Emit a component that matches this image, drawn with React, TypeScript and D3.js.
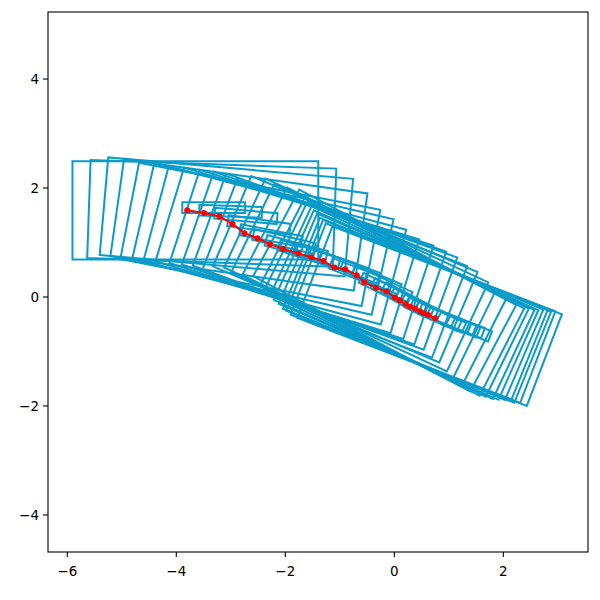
import { scaleLinear } from "d3";

const width = 600;
const height = 600;

// red track: reference point of the box in each frame
const trackX = [-3.8, -3.49, -3.21, -2.97, -2.75, -2.51, -2.28, -2.04, -1.76, -1.52, -1.3, -1.1, -0.9, -0.69, -0.55, -0.34, -0.14, 0.01, 0.1, 0.21, 0.29, 0.38, 0.47, 0.54, 0.62, 0.75];
const trackY = [1.59, 1.54, 1.48, 1.34, 1.17, 1.08, 0.97, 0.88, 0.8, 0.73, 0.66, 0.54, 0.51, 0.4, 0.27, 0.17, 0.1, -0.01, -0.06, -0.13, -0.18, -0.21, -0.26, -0.3, -0.33, -0.39];
// heading of the box in degrees
const headingDeg = [0, -2, -5, -8, -11, -13, -15, -17, -18, -19, -20, -21, -23, -25, -26, -27, -28, -27, -26, -25, -24, -23, -22, -22, -21, -21];
// box centre ahead of the track point, along the heading
const boxShift = [0.15, 0.14, 0.13, 0.12, 0.11, 0.1, 0.09, 0.08, 0.06, 0.05, 0.03, 0.01, 0, -0.01, -0.02, -0.03, -0.04, -0.05, -0.06, -0.07, -0.08, -0.08, -0.09, -0.1, -0.1, -0.11];

const xTicks = [-6, -4, -2, 0, 2];
const yTicks = [-4, -2, 0, 2, 4];

const halfLength = 2.255;
const halfWidth = 0.9;

const left = 48;
const right = 588;
const top = 12;
const bottom = 552;

const x = scaleLinear().domain([-6.354, 3.554]).range([left, right]);
const y = scaleLinear().domain([-4.68, 5.23]).range([bottom, top]);

const boxColor = "#0a9bc9";
const font = "DejaVu Sans, sans-serif";

const outline = (i: number, u0: number, u1: number, v0: number, v1: number) => {
  const h = (headingDeg[i] * Math.PI) / 180;
  const c = Math.cos(h);
  const s = Math.sin(h);
  const corners = [
    [u0, v0],
    [u1, v0],
    [u1, v1],
    [u0, v1],
  ];
  const pts = corners.map(([u, v]) => [
    x(trackX[i] + u * c - v * s),
    y(trackY[i] + u * s + v * c),
  ]);
  return "M" + pts.map((p) => p.join(",")).join("L") + "Z";
};

const App = () => {
  const trackPath =
    "M" + trackX.map((d, i) => `${x(d)},${y(trackY[i])}`).join("L");
  return (
    <svg
      width={width}
      height={height}
      style={{ position: "absolute", left: 0, top: 0, background: "white" }}
    >
      <defs>
        <clipPath id="plot">
          <rect x={left} y={top} width={right - left} height={bottom - top} />
        </clipPath>
      </defs>
      <g clipPath="url(#plot)" fill="none" stroke={boxColor} strokeWidth={2}>
        {trackX.map((d, i) => (
          <g key={i}>
            <path
              d={outline(
                i,
                boxShift[i] - halfLength,
                boxShift[i] + halfLength,
                -halfWidth,
                halfWidth
              )}
            />
            <path d={outline(i, -0.09, 1.06, -0.05, 0.15)} />
          </g>
        ))}
      </g>
      <path d={trackPath} fill="none" stroke="red" strokeWidth={2} />
      {trackX.map((d, i) => (
        <circle key={i} cx={x(d)} cy={y(trackY[i])} r={3} fill="red" />
      ))}
      <rect
        x={left}
        y={top}
        width={right - left}
        height={bottom - top}
        fill="none"
        stroke="black"
        strokeWidth={1.1}
      />
      {xTicks.map((t) => (
        <g key={t} transform={`translate(${x(t)},${bottom})`}>
          <line y2={5} stroke="black" strokeWidth={1.1} />
          <text
            y={14}
            textAnchor="middle"
            fontFamily={font}
            fontSize={13.5}
            dominantBaseline="hanging"
          >
            {t < 0 ? `\u2212${-t}` : t}
          </text>
        </g>
      ))}
      {yTicks.map((t) => (
        <g key={t} transform={`translate(${left},${y(t)})`}>
          <line x2={-5} stroke="black" strokeWidth={1.1} />
          <text
            x={-9}
            textAnchor="end"
            fontFamily={font}
            fontSize={13.5}
            dy="0.35em"
          >
            {t < 0 ? `\u2212${-t}` : t}
          </text>
        </g>
      ))}
    </svg>
  );
};

export default App;
